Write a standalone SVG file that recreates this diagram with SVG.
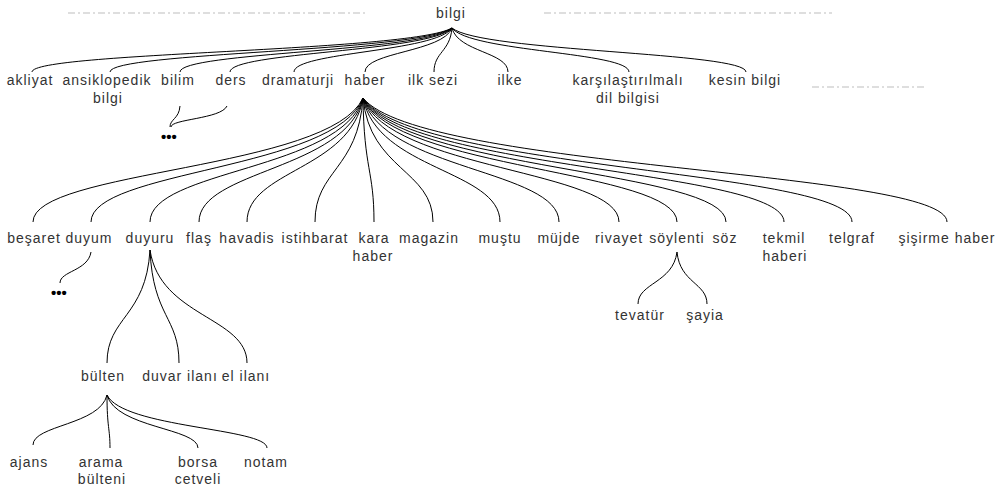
<svg xmlns="http://www.w3.org/2000/svg" width="1008" height="495" viewBox="0 0 1008 495">
<style>
text{font-family:"Liberation Sans",Arial,sans-serif;font-size:14px;fill:#333;text-anchor:middle;letter-spacing:1px}
.c path{fill:none;stroke:#000;stroke-width:1}
.dash{fill:none;stroke:#bdbdbd;stroke-width:1.2;stroke-dasharray:7 3 2 3}
text.dots{font-size:15px;font-weight:bold;letter-spacing:0;fill:#000}
</style>
<rect width="1008" height="495" fill="#fff"/>
<g id="placeholders">
<line class="dash" x1="68" y1="13" x2="365" y2="13"/>
<line class="dash" x1="544" y1="13" x2="832" y2="13"/>
<line class="dash" x1="812" y1="87" x2="926" y2="87"/>
</g>
<g class="c" id="connectors">
<path d="M452,28 C410,52 32,52 32,72"/>
<path d="M452,28 C418,52 110,52 110,72"/>
<path d="M452,28 C425,52 180,52 180,72"/>
<path d="M452,28 C430,52 230,52 230,72"/>
<path d="M452,28 C436,52 294,52 294,72"/>
<path d="M452,28 C443,52 365,52 365,72"/>
<path d="M452,28 C450,52 434,52 434,72"/>
<path d="M452,28 C458,52 508,52 508,72"/>
<path d="M452,28 C470,52 629,52 629,72"/>
<path d="M452,28 C481,52 746,52 746,72"/>
<path d="M180,106 C179,119 170,119 170,127"/>
<path d="M227,106 C221,119 171,119 171,127"/>
<path d="M363,98 C330,170 33,170 33,222"/>
<path d="M363,98 C336,170 91,170 91,222"/>
<path d="M363,98 C342,170 150,170 150,222"/>
<path d="M363,98 C347,170 199,170 199,222"/>
<path d="M363,98 C351,170 247,170 247,222"/>
<path d="M363,98 C358,170 315,170 315,222"/>
<path d="M363,98 C364,170 374,170 374,222"/>
<path d="M363,98 C370,170 433,170 433,222"/>
<path d="M363,98 C377,170 500,170 500,222"/>
<path d="M363,98 C383,170 559,170 559,222"/>
<path d="M363,98 C389,170 619,170 619,222"/>
<path d="M363,98 C394,170 677,170 677,222"/>
<path d="M363,98 C399,170 726,170 726,222"/>
<path d="M363,98 C405,170 784,170 784,222"/>
<path d="M363,98 C412,170 852,170 852,222"/>
<path d="M363,98 C421,170 947,170 947,222"/>
<path d="M91,252 C88,271 60,271 60,283"/>
<path d="M150,250 C146,317 107,317 107,363"/>
<path d="M150,250 C153,317 179,317 179,363"/>
<path d="M150,250 C160,317 247,317 247,363"/>
<path d="M107,395 C100,425 33,425 33,445"/>
<path d="M107,395 C107,428 110,428 110,448"/>
<path d="M107,395 C116,428 198,428 198,448"/>
<path d="M107,395 C123,428 267,428 267,448"/>
<path d="M677,252 C673,283 638,283 638,304"/>
<path d="M677,252 C680,283 707,283 707,304"/>
</g>
<g id="n-bilgi"><text x="451" y="18">bilgi</text></g>
<g id="n-akliyat"><text x="30" y="85">akliyat</text></g>
<g id="n-ansiklopedik"><text x="107" y="85">ansiklopedik</text><text x="108" y="103">bilgi</text></g>
<g id="n-bilim"><text x="178" y="85">bilim</text></g>
<g id="n-ders"><text x="231" y="85">ders</text></g>
<g id="n-dramaturji"><text x="298" y="85">dramaturji</text></g>
<g id="n-haber"><text x="365" y="85">haber</text></g>
<g id="n-ilksezi"><text x="433" y="85">ilk sezi</text></g>
<g id="n-ilke"><text x="510" y="85">ilke</text></g>
<g id="n-karsilastirmali"><text x="628" y="85">karşılaştırılmalı</text><text x="628" y="103">dil bilgisi</text></g>
<g id="n-kesin"><text x="745" y="85">kesin bilgi</text></g>
<g id="n-dots1"><text class="dots" x="169" y="142">•••</text></g>
<g id="n-besaret"><text x="34" y="243">beşaret</text></g>
<g id="n-duyum"><text x="89" y="243">duyum</text></g>
<g id="n-duyuru"><text x="150" y="243">duyuru</text></g>
<g id="n-flas"><text x="199" y="243">flaş</text></g>
<g id="n-havadis"><text x="247" y="243">havadis</text></g>
<g id="n-istihbarat"><text x="315" y="243">istihbarat</text></g>
<g id="n-karahaber"><text x="374" y="243">kara</text><text x="373" y="261">haber</text></g>
<g id="n-magazin"><text x="429" y="243">magazin</text></g>
<g id="n-mustu"><text x="500" y="243">muştu</text></g>
<g id="n-mujde"><text x="559" y="243">müjde</text></g>
<g id="n-rivayet"><text x="619" y="243">rivayet</text></g>
<g id="n-soylenti"><text x="677" y="243">söylenti</text></g>
<g id="n-soz"><text x="725" y="243">söz</text></g>
<g id="n-tekmil"><text x="784" y="243">tekmil</text><text x="785" y="261">haberi</text></g>
<g id="n-telgraf"><text x="852" y="243">telgraf</text></g>
<g id="n-sisirme"><text x="947" y="243">şişirme haber</text></g>
<g id="n-dots2"><text class="dots" x="59" y="298">•••</text></g>
<g id="n-bulten"><text x="103" y="381">bülten</text></g>
<g id="n-duvar"><text x="180" y="381">duvar ilanı</text></g>
<g id="n-elilani"><text x="246" y="381">el ilanı</text></g>
<g id="n-ajans"><text x="29" y="467">ajans</text></g>
<g id="n-arama"><text x="101" y="467">arama</text><text x="102" y="484">bülteni</text></g>
<g id="n-borsa"><text x="198" y="467">borsa</text><text x="198" y="484">cetveli</text></g>
<g id="n-notam"><text x="266" y="467">notam</text></g>
<g id="n-tevatur"><text x="640" y="320">tevatür</text></g>
<g id="n-sayia"><text x="705" y="320">şayia</text></g>
</svg>
